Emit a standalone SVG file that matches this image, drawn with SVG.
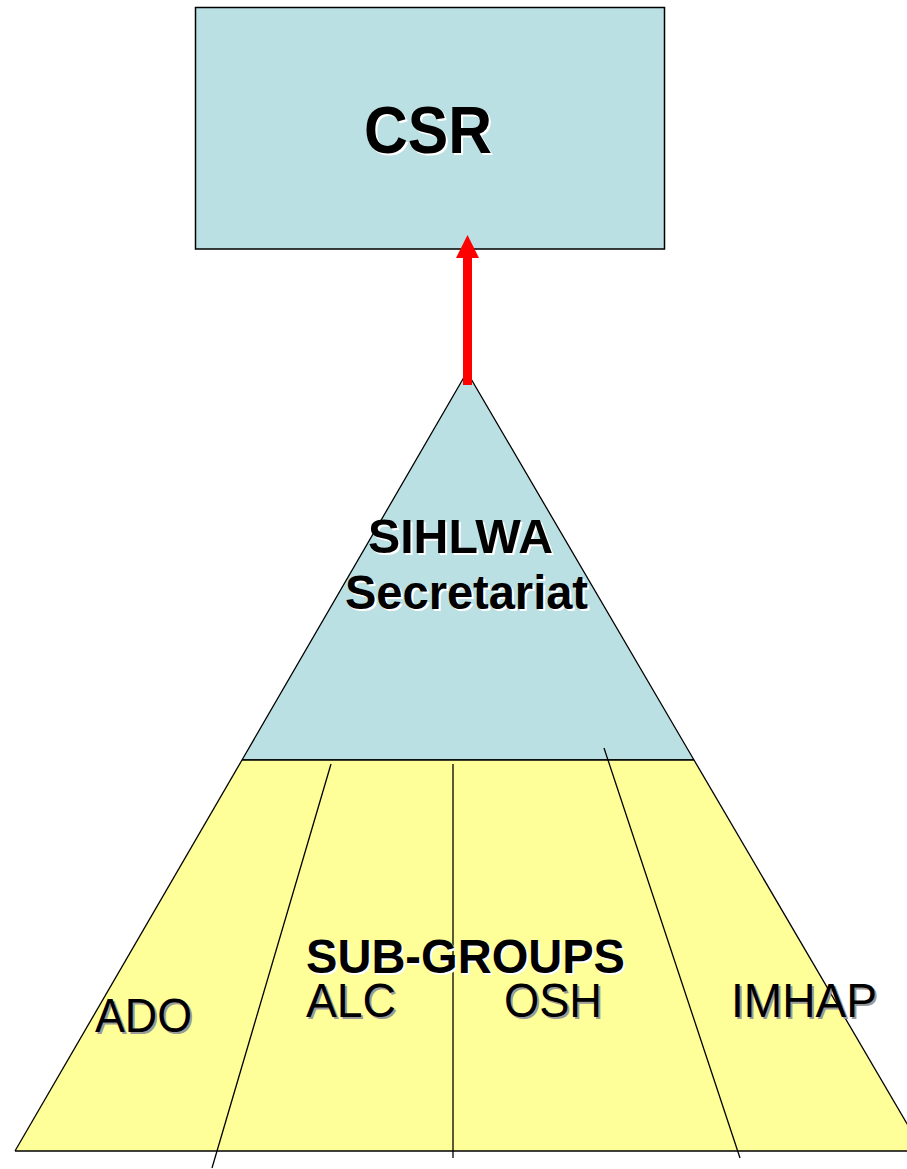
<svg xmlns="http://www.w3.org/2000/svg" width="907" height="1169" viewBox="0 0 907 1169">
<style>
.bold{font-family:"Liberation Sans",Arial,sans-serif;font-weight:bold;fill:#000}
.boldsh{font-family:"Liberation Sans",Arial,sans-serif;font-weight:bold;fill:#fff}
.reg{font-family:"Liberation Sans",Arial,sans-serif;fill:#000;font-size:48px}
.regsh{font-family:"Liberation Sans",Arial,sans-serif;fill:#9a9a9a;font-size:48px}
.ln{stroke:#000;stroke-width:1.3;fill:none}
</style>
<rect width="907" height="1169" fill="#fff"/>
<g id="csr">
<rect x="195.5" y="7.5" width="469" height="241.5" fill="#BBE0E3" stroke="#000" stroke-width="1.5"/>
<text class="boldsh" x="366" y="155" font-size="66" textLength="128" lengthAdjust="spacingAndGlyphs">CSR</text>
<text class="bold" x="364" y="153" font-size="66" textLength="128" lengthAdjust="spacingAndGlyphs">CSR</text>
</g>
<g id="secretariat">
<polygon points="467,372 242,760 694,760" fill="#BBE0E3" stroke="#000" stroke-width="1.3"/>
<text class="boldsh" x="370" y="555" font-size="48" textLength="185" lengthAdjust="spacingAndGlyphs">SIHLWA</text>
<text class="bold" x="368" y="553" font-size="48" textLength="185" lengthAdjust="spacingAndGlyphs">SIHLWA</text>
<text class="boldsh" x="347" y="611" font-size="48" textLength="243" lengthAdjust="spacingAndGlyphs">Secretariat</text>
<text class="bold" x="345" y="609" font-size="48" textLength="243" lengthAdjust="spacingAndGlyphs">Secretariat</text>
</g>
<g id="subgroups">
<polygon points="242,760 694,760 923,1151 15,1151" fill="#FFFF99"/>
<line class="ln" x1="242" y1="760" x2="694" y2="760"/>
<line class="ln" x1="242" y1="760" x2="15" y2="1151"/>
<line class="ln" x1="694" y1="760" x2="923" y2="1151"/>
<line class="ln" x1="15" y1="1151" x2="907" y2="1151"/>
</g>
<g id="dividers">
<line class="ln" x1="331" y1="764" x2="212" y2="1168"/>
<line class="ln" x1="453" y1="764" x2="453" y2="1158"/>
<line class="ln" x1="604" y1="748" x2="740" y2="1158"/>
</g>
<g id="labels">
<text class="boldsh" x="308" y="975" font-size="48" textLength="319" lengthAdjust="spacingAndGlyphs">SUB-GROUPS</text>
<text class="bold" x="306" y="973" font-size="48" textLength="319" lengthAdjust="spacingAndGlyphs">SUB-GROUPS</text>
<text class="regsh" x="97" y="1034" textLength="97" lengthAdjust="spacingAndGlyphs">ADO</text>
<text class="reg" x="95" y="1032" textLength="97" lengthAdjust="spacingAndGlyphs">ADO</text>
<text class="regsh" x="308" y="1019" textLength="90" lengthAdjust="spacingAndGlyphs">ALC</text>
<text class="reg" x="306" y="1017" textLength="90" lengthAdjust="spacingAndGlyphs">ALC</text>
<text class="regsh" x="506" y="1019" textLength="98" lengthAdjust="spacingAndGlyphs">OSH</text>
<text class="reg" x="504" y="1017" textLength="98" lengthAdjust="spacingAndGlyphs">OSH</text>
<text class="regsh" x="733" y="1019" textLength="146" lengthAdjust="spacingAndGlyphs">IMHAP</text>
<text class="reg" x="731" y="1017" textLength="146" lengthAdjust="spacingAndGlyphs">IMHAP</text>
</g>
<g id="connectors">
<line x1="467.5" y1="385" x2="467.5" y2="256" stroke="#f00" stroke-width="9"/>
<polygon points="467.5,235 456,258 479,258" fill="#f00"/>
</g>
</svg>
